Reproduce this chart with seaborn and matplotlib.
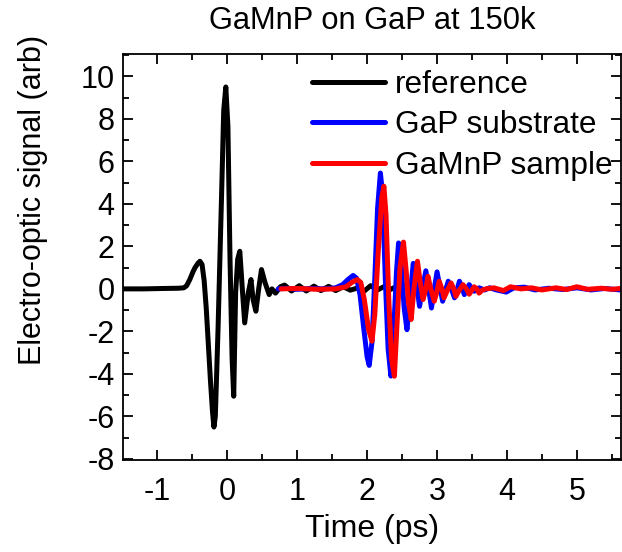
import matplotlib
matplotlib.use("Agg")
import matplotlib.pyplot as plt
import seaborn as sns
import pandas as pd
from matplotlib.ticker import MultipleLocator

# ---- data ----
ref_t = [-1.49, -1.2, -0.9, -0.7, -0.62, -0.58, -0.535, -0.49, -0.46, -0.42, -0.39, -0.36,
         -0.33, -0.30, -0.27, -0.24, -0.21, -0.19, -0.17, -0.13, -0.10, -0.08, -0.05, -0.02,
         0.01, 0.04, 0.07, 0.093, 0.12, 0.15, 0.18, 0.22, 0.25, 0.30, 0.34, 0.37, 0.41, 0.45,
         0.49, 0.54, 0.60, 0.64, 0.69, 0.76, 0.82, 0.92, 1.03, 1.13, 1.24, 1.34, 1.45, 1.55,
         1.66, 1.76, 1.87, 1.96, 2.05, 2.15, 2.25, 2.32, 2.38]
ref_v = [0.0, 0.0, 0.02, 0.03, 0.05, 0.15, 0.44, 0.8, 1.0, 1.2, 1.3, 1.15,
         0.4, -0.9, -2.6, -4.3, -5.8, -6.5, -6.0, -1.76, 2.0, 4.5, 8.4, 9.5,
         7.65, 1.4, -3.3, -5.05, -0.2, 1.4, 1.77, -0.2, -1.6, -0.2, 0.44, -0.5, -1.05, 0.0,
         0.91, 0.3, -0.27, 0.0, -0.2, 0.1, 0.18, -0.1, 0.15, -0.1, 0.13, -0.08, 0.12, -0.08,
         0.1, -0.06, 0.05, -0.1, 0.15, -0.05, 0.12, -0.05, 0.05]

gap_t = [0.73, 0.85, 1.0, 1.2, 1.4, 1.55, 1.65, 1.73, 1.80, 1.85, 1.90, 1.95, 2.0, 2.03,
         2.07, 2.11, 2.15, 2.19, 2.22, 2.26, 2.30, 2.34, 2.38, 2.42, 2.45, 2.49, 2.53, 2.57,
         2.61, 2.66, 2.70, 2.75, 2.79, 2.84, 2.88, 2.92, 2.96, 3.0, 3.04, 3.08, 3.12, 3.16,
         3.21, 3.25, 3.29, 3.32, 3.36, 3.39, 3.43, 3.46, 3.5, 3.53, 3.6, 3.68, 3.75, 3.85,
         3.99, 4.1, 4.25, 4.4, 4.6, 4.8, 5.0, 5.2, 5.4, 5.62]
gap_v = [0.0, 0.03, -0.02, 0.02, 0.0, 0.05, 0.2, 0.45, 0.63, 0.5, -0.3, -1.8, -3.2, -3.6,
         -2.5, 0.5, 3.8, 5.45, 4.5, 0.5, -2.8, -4.1, -2.0, 0.8, 2.16, 1.0, -0.9, -1.92,
         -0.5, 1.2, 0.4, -0.82, 0.0, 0.85, 0.0, -0.9, 0.0, 0.8, 0.1, -0.58, -0.1, 0.36,
         -0.05, -0.42, 0.0, 0.36, 0.05, -0.27, 0.0, 0.2, 0.0, -0.11, 0.05, -0.05, 0.05, -0.05,
         -0.15, 0.05, 0.08, -0.05, 0.03, -0.03, 0.05, -0.05, 0.02, -0.05]

mnp_t = [0.77, 1.0, 1.3, 1.55, 1.7, 1.78, 1.86, 1.91, 1.96, 2.02, 2.07, 2.11, 2.16, 2.21,
         2.24, 2.27, 2.31, 2.35, 2.39, 2.43, 2.47, 2.52, 2.56, 2.59, 2.63, 2.67, 2.72, 2.76,
         2.80, 2.84, 2.87, 2.91, 2.96, 3.0, 3.03, 3.07, 3.10, 3.15, 3.20, 3.24, 3.27, 3.32,
         3.37, 3.42, 3.46, 3.5, 3.53, 3.57, 3.60, 3.65, 3.70, 3.81, 3.95, 4.05, 4.2, 4.35,
         4.5, 4.7, 4.85, 5.0, 5.15, 5.35, 5.5, 5.62]
mnp_v = [0.0, 0.02, -0.02, 0.0, 0.1, 0.3, 0.44, 0.3, -0.5, -1.9, -2.46, -1.2, 1.8, 4.3,
         4.83, 3.5, -0.5, -3.3, -4.11, -1.5, 1.0, 2.2, 0.8, -0.6, -1.44, 0.0, 1.3, 0.3,
         -0.5, 0.0, 0.59, 0.0, -0.58, -0.1, 0.36, 0.0, -0.42, -0.05, 0.28, 0.0, -0.35, -0.05,
         0.2, 0.0, -0.25, -0.05, 0.1, 0.0, -0.2, -0.05, 0.0, 0.05, -0.08, 0.1, 0.0, 0.05,
         -0.05, 0.05, -0.03, 0.1, -0.02, 0.03, -0.02, 0.02]

labels = ["reference", "GaP substrate", "GaMnP sample"]
colors = ["#000000", "#0000ff", "#ff0000"]

title = "GaMnP on GaP at 150k"
xlabel = "Time (ps)"
ylabel = "Electro-optic signal (arb)"
x_ticks = [-1, 0, 1, 2, 3, 4, 5]
y_ticks = [-8, -6, -4, -2, 0, 2, 4, 6, 8, 10]

# ---- plotting ----
sns.set_style("ticks")
plt.rcParams["font.family"] = ["Liberation Sans", "DejaVu Sans"]
plt.rcParams["axes.unicode_minus"] = False
plt.rcParams["text.color"] = "black"
plt.rcParams["axes.labelcolor"] = "black"
plt.rcParams["xtick.color"] = "black"
plt.rcParams["ytick.color"] = "black"
FS = 22

fig = plt.figure(figsize=(6.22, 5.52), dpi=100)
ax = fig.add_axes([123 / 622, 1 - 460 / 552, (621 - 123) / 622, (460 - 54) / 552])

series = [(ref_t, ref_v), (gap_t, gap_v), (mnp_t, mnp_v)]
for (t, v), lab, col in zip(series, labels, colors):
    df = pd.DataFrame({"t": t, "v": v})
    sns.lineplot(data=df, x="t", y="v", ax=ax, color=col, lw=3.6, sort=False,
                 label=lab, solid_joinstyle="round", solid_capstyle="round")

ax.set_xlim(-1.49, 5.63)
ax.set_ylim(-8.05, 11.05)
ax.set_xticks(x_ticks)
ax.set_yticks(y_ticks)
ax.xaxis.set_minor_locator(MultipleLocator(0.5))
ax.yaxis.set_minor_locator(MultipleLocator(1))
ax.tick_params(which="both", direction="in", top=True, right=True, width=1.3, colors="black")
ax.tick_params(which="major", length=7)
ax.tick_params(which="minor", length=4)
ax.tick_params(axis="x", which="major", pad=12, labelsize=FS)
ax.tick_params(axis="y", which="major", pad=6, labelsize=FS)
for s in ax.spines.values():
    s.set_linewidth(1.3)
    s.set_color("black")

ax.set_title(title, fontsize=22.2, pad=18, color="black")
ax.set_xlabel(xlabel, fontsize=23, labelpad=5)
ax.set_ylabel(ylabel, fontsize=FS)
ax.yaxis.set_label_coords(-0.15, 0.64)

leg = ax.legend(loc="upper right", bbox_to_anchor=(1.014, 1.0), frameon=False, fontsize=22.8,
                handlelength=2.3, handletextpad=0.3, labelspacing=0.33, borderaxespad=0.1)
for h in leg.get_lines():
    h.set_linewidth(3.6)

fig.savefig("out.png", dpi=100)
